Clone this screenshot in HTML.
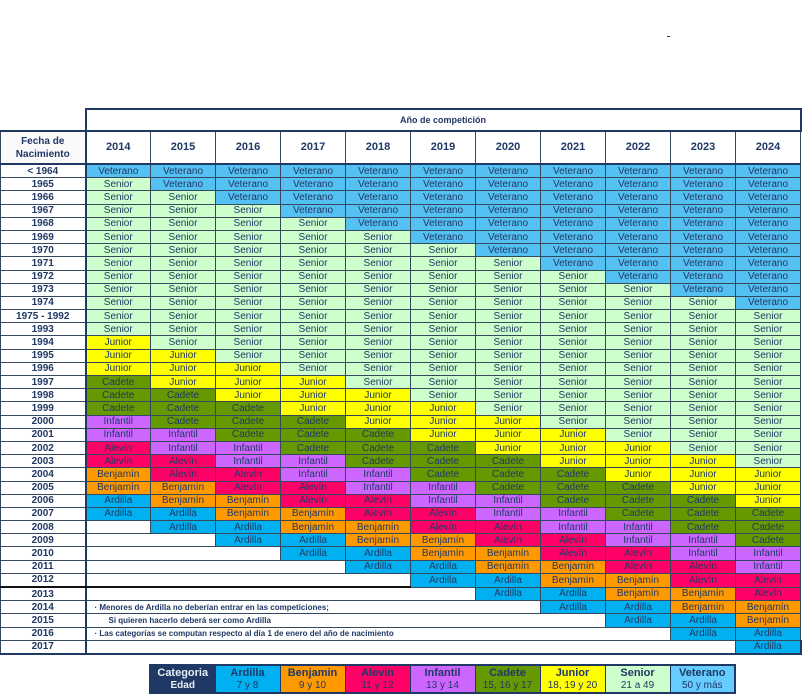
<!DOCTYPE html>
<html><head><meta charset="utf-8">
<style>
body{margin:0;width:810px;height:695px;background:#fff;position:relative;overflow:hidden;font-family:"Liberation Sans",Arial,sans-serif;color:#1f3864}
table{border-collapse:collapse;table-layout:fixed;position:absolute}
#t{left:0;top:108px;width:800px}
#t td{padding:0;text-align:center;font-size:10px;line-height:11px;border:1px solid #34495e;overflow:hidden;white-space:nowrap}
#t tr.d td{height:12.2px}
#t td.l{font-weight:bold;font-size:10px;border-right:2px solid #1f3864;background:#fff}
.v{background:#55c1f2}.s{background:#ccffcc}.j{background:#ffff00}.c{background:#669900}.i{background:#cc66ff}.r{background:#ff0066}.b{background:#ff9900}.a{background:#00b0f0}
td.n{text-align:left!important;font-weight:bold;font-size:8px!important;padding-left:8px!important}
#lg{left:149px;top:664px;width:586px;border:2px solid #1f3864}
#lg td{padding:0;text-align:center;font-size:10px;height:13px;line-height:12px;border-left:1px solid #1f3864}
#lg tr:first-child td{font-weight:bold;font-size:11px}
#lg td.k{background:#1f3864;color:#e8eef5;font-weight:bold}
#lg .v{background:#66ccff}
</style></head><body>
<div style="position:absolute;left:667px;top:36px;width:3px;height:1px;background:#333"></div>
<table id="t">
<colgroup><col style="width:85px"><col span="11" style="width:65px"></colgroup>
<tr><td style="border:none;border-right:2px solid #1f3864;border-bottom:2px solid #1f3864;height:20px"></td><td colspan="11" style="font-weight:bold;font-size:9px;border:2px solid #1f3864;height:20px">Año de competición</td></tr>
<tr><td class="l" style="height:31px;font-size:10px;line-height:13px;background:#fafafa;border-bottom:2px solid #1f3864">Fecha de<br>Nacimiento</td><td style="font-weight:bold;font-size:11px;border-bottom:2px solid #1f3864">2014</td><td style="font-weight:bold;font-size:11px;border-bottom:2px solid #1f3864">2015</td><td style="font-weight:bold;font-size:11px;border-bottom:2px solid #1f3864">2016</td><td style="font-weight:bold;font-size:11px;border-bottom:2px solid #1f3864">2017</td><td style="font-weight:bold;font-size:11px;border-bottom:2px solid #1f3864">2018</td><td style="font-weight:bold;font-size:11px;border-bottom:2px solid #1f3864">2019</td><td style="font-weight:bold;font-size:11px;border-bottom:2px solid #1f3864">2020</td><td style="font-weight:bold;font-size:11px;border-bottom:2px solid #1f3864">2021</td><td style="font-weight:bold;font-size:11px;border-bottom:2px solid #1f3864">2022</td><td style="font-weight:bold;font-size:11px;border-bottom:2px solid #1f3864">2023</td><td style="font-weight:bold;font-size:11px;border-bottom:2px solid #1f3864">2024</td></tr>
<tr class="d"><td class="l">&lt; 1964</td><td class="v">Veterano</td><td class="v">Veterano</td><td class="v">Veterano</td><td class="v">Veterano</td><td class="v">Veterano</td><td class="v">Veterano</td><td class="v">Veterano</td><td class="v">Veterano</td><td class="v">Veterano</td><td class="v">Veterano</td><td class="v">Veterano</td></tr>
<tr class="d"><td class="l">1965</td><td class="s">Senior</td><td class="v">Veterano</td><td class="v">Veterano</td><td class="v">Veterano</td><td class="v">Veterano</td><td class="v">Veterano</td><td class="v">Veterano</td><td class="v">Veterano</td><td class="v">Veterano</td><td class="v">Veterano</td><td class="v">Veterano</td></tr>
<tr class="d"><td class="l">1966</td><td class="s">Senior</td><td class="s">Senior</td><td class="v">Veterano</td><td class="v">Veterano</td><td class="v">Veterano</td><td class="v">Veterano</td><td class="v">Veterano</td><td class="v">Veterano</td><td class="v">Veterano</td><td class="v">Veterano</td><td class="v">Veterano</td></tr>
<tr class="d"><td class="l">1967</td><td class="s">Senior</td><td class="s">Senior</td><td class="s">Senior</td><td class="v">Veterano</td><td class="v">Veterano</td><td class="v">Veterano</td><td class="v">Veterano</td><td class="v">Veterano</td><td class="v">Veterano</td><td class="v">Veterano</td><td class="v">Veterano</td></tr>
<tr class="d"><td class="l">1968</td><td class="s">Senior</td><td class="s">Senior</td><td class="s">Senior</td><td class="s">Senior</td><td class="v">Veterano</td><td class="v">Veterano</td><td class="v">Veterano</td><td class="v">Veterano</td><td class="v">Veterano</td><td class="v">Veterano</td><td class="v">Veterano</td></tr>
<tr class="d"><td class="l">1969</td><td class="s">Senior</td><td class="s">Senior</td><td class="s">Senior</td><td class="s">Senior</td><td class="s">Senior</td><td class="v">Veterano</td><td class="v">Veterano</td><td class="v">Veterano</td><td class="v">Veterano</td><td class="v">Veterano</td><td class="v">Veterano</td></tr>
<tr class="d"><td class="l">1970</td><td class="s">Senior</td><td class="s">Senior</td><td class="s">Senior</td><td class="s">Senior</td><td class="s">Senior</td><td class="s">Senior</td><td class="v">Veterano</td><td class="v">Veterano</td><td class="v">Veterano</td><td class="v">Veterano</td><td class="v">Veterano</td></tr>
<tr class="d"><td class="l">1971</td><td class="s">Senior</td><td class="s">Senior</td><td class="s">Senior</td><td class="s">Senior</td><td class="s">Senior</td><td class="s">Senior</td><td class="s">Senior</td><td class="v">Veterano</td><td class="v">Veterano</td><td class="v">Veterano</td><td class="v">Veterano</td></tr>
<tr class="d"><td class="l">1972</td><td class="s">Senior</td><td class="s">Senior</td><td class="s">Senior</td><td class="s">Senior</td><td class="s">Senior</td><td class="s">Senior</td><td class="s">Senior</td><td class="s">Senior</td><td class="v">Veterano</td><td class="v">Veterano</td><td class="v">Veterano</td></tr>
<tr class="d"><td class="l">1973</td><td class="s">Senior</td><td class="s">Senior</td><td class="s">Senior</td><td class="s">Senior</td><td class="s">Senior</td><td class="s">Senior</td><td class="s">Senior</td><td class="s">Senior</td><td class="s">Senior</td><td class="v">Veterano</td><td class="v">Veterano</td></tr>
<tr class="d"><td class="l">1974</td><td class="s">Senior</td><td class="s">Senior</td><td class="s">Senior</td><td class="s">Senior</td><td class="s">Senior</td><td class="s">Senior</td><td class="s">Senior</td><td class="s">Senior</td><td class="s">Senior</td><td class="s">Senior</td><td class="v">Veterano</td></tr>
<tr class="d"><td class="l">1975 - 1992</td><td class="s">Senior</td><td class="s">Senior</td><td class="s">Senior</td><td class="s">Senior</td><td class="s">Senior</td><td class="s">Senior</td><td class="s">Senior</td><td class="s">Senior</td><td class="s">Senior</td><td class="s">Senior</td><td class="s">Senior</td></tr>
<tr class="d"><td class="l">1993</td><td class="s">Senior</td><td class="s">Senior</td><td class="s">Senior</td><td class="s">Senior</td><td class="s">Senior</td><td class="s">Senior</td><td class="s">Senior</td><td class="s">Senior</td><td class="s">Senior</td><td class="s">Senior</td><td class="s">Senior</td></tr>
<tr class="d"><td class="l">1994</td><td class="j">Junior</td><td class="s">Senior</td><td class="s">Senior</td><td class="s">Senior</td><td class="s">Senior</td><td class="s">Senior</td><td class="s">Senior</td><td class="s">Senior</td><td class="s">Senior</td><td class="s">Senior</td><td class="s">Senior</td></tr>
<tr class="d"><td class="l">1995</td><td class="j">Junior</td><td class="j">Junior</td><td class="s">Senior</td><td class="s">Senior</td><td class="s">Senior</td><td class="s">Senior</td><td class="s">Senior</td><td class="s">Senior</td><td class="s">Senior</td><td class="s">Senior</td><td class="s">Senior</td></tr>
<tr class="d"><td class="l">1996</td><td class="j">Junior</td><td class="j">Junior</td><td class="j">Junior</td><td class="s">Senior</td><td class="s">Senior</td><td class="s">Senior</td><td class="s">Senior</td><td class="s">Senior</td><td class="s">Senior</td><td class="s">Senior</td><td class="s">Senior</td></tr>
<tr class="d"><td class="l">1997</td><td class="c">Cadete</td><td class="j">Junior</td><td class="j">Junior</td><td class="j">Junior</td><td class="s">Senior</td><td class="s">Senior</td><td class="s">Senior</td><td class="s">Senior</td><td class="s">Senior</td><td class="s">Senior</td><td class="s">Senior</td></tr>
<tr class="d"><td class="l">1998</td><td class="c">Cadete</td><td class="c">Cadete</td><td class="j">Junior</td><td class="j">Junior</td><td class="j">Junior</td><td class="s">Senior</td><td class="s">Senior</td><td class="s">Senior</td><td class="s">Senior</td><td class="s">Senior</td><td class="s">Senior</td></tr>
<tr class="d"><td class="l">1999</td><td class="c">Cadete</td><td class="c">Cadete</td><td class="c">Cadete</td><td class="j">Junior</td><td class="j">Junior</td><td class="j">Junior</td><td class="s">Senior</td><td class="s">Senior</td><td class="s">Senior</td><td class="s">Senior</td><td class="s">Senior</td></tr>
<tr class="d"><td class="l">2000</td><td class="i">Infantil</td><td class="c">Cadete</td><td class="c">Cadete</td><td class="c">Cadete</td><td class="j">Junior</td><td class="j">Junior</td><td class="j">Junior</td><td class="s">Senior</td><td class="s">Senior</td><td class="s">Senior</td><td class="s">Senior</td></tr>
<tr class="d"><td class="l">2001</td><td class="i">Infantil</td><td class="i">Infantil</td><td class="c">Cadete</td><td class="c">Cadete</td><td class="c">Cadete</td><td class="j">Junior</td><td class="j">Junior</td><td class="j">Junior</td><td class="s">Senior</td><td class="s">Senior</td><td class="s">Senior</td></tr>
<tr class="d"><td class="l">2002</td><td class="r">Alevín</td><td class="i">Infantil</td><td class="i">Infantil</td><td class="c">Cadete</td><td class="c">Cadete</td><td class="c">Cadete</td><td class="j">Junior</td><td class="j">Junior</td><td class="j">Junior</td><td class="s">Senior</td><td class="s">Senior</td></tr>
<tr class="d"><td class="l">2003</td><td class="r">Alevín</td><td class="r">Alevín</td><td class="i">Infantil</td><td class="i">Infantil</td><td class="c">Cadete</td><td class="c">Cadete</td><td class="c">Cadete</td><td class="j">Junior</td><td class="j">Junior</td><td class="j">Junior</td><td class="s">Senior</td></tr>
<tr class="d"><td class="l">2004</td><td class="b">Benjamín</td><td class="r">Alevín</td><td class="r">Alevín</td><td class="i">Infantil</td><td class="i">Infantil</td><td class="c">Cadete</td><td class="c">Cadete</td><td class="c">Cadete</td><td class="j">Junior</td><td class="j">Junior</td><td class="j">Junior</td></tr>
<tr class="d"><td class="l">2005</td><td class="b">Benjamín</td><td class="b">Benjamín</td><td class="r">Alevín</td><td class="r">Alevín</td><td class="i">Infantil</td><td class="i">Infantil</td><td class="c">Cadete</td><td class="c">Cadete</td><td class="c">Cadete</td><td class="j">Junior</td><td class="j">Junior</td></tr>
<tr class="d"><td class="l">2006</td><td class="a">Ardilla</td><td class="b">Benjamín</td><td class="b">Benjamín</td><td class="r">Alevín</td><td class="r">Alevín</td><td class="i">Infantil</td><td class="i">Infantil</td><td class="c">Cadete</td><td class="c">Cadete</td><td class="c">Cadete</td><td class="j">Junior</td></tr>
<tr class="d"><td class="l">2007</td><td class="a">Ardilla</td><td class="a">Ardilla</td><td class="b">Benjamín</td><td class="b">Benjamín</td><td class="r">Alevín</td><td class="r">Alevín</td><td class="i">Infantil</td><td class="i">Infantil</td><td class="c">Cadete</td><td class="c">Cadete</td><td class="c">Cadete</td></tr>
<tr class="d"><td class="l">2008</td><td></td><td class="a">Ardilla</td><td class="a">Ardilla</td><td class="b">Benjamín</td><td class="b">Benjamín</td><td class="r">Alevín</td><td class="r">Alevín</td><td class="i">Infantil</td><td class="i">Infantil</td><td class="c">Cadete</td><td class="c">Cadete</td></tr>
<tr class="d"><td class="l">2009</td><td colspan="2"></td><td class="a">Ardilla</td><td class="a">Ardilla</td><td class="b">Benjamín</td><td class="b">Benjamín</td><td class="r">Alevín</td><td class="r">Alevín</td><td class="i">Infantil</td><td class="i">Infantil</td><td class="c">Cadete</td></tr>
<tr class="d"><td class="l">2010</td><td colspan="3"></td><td class="a">Ardilla</td><td class="a">Ardilla</td><td class="b">Benjamín</td><td class="b">Benjamín</td><td class="r">Alevín</td><td class="r">Alevín</td><td class="i">Infantil</td><td class="i">Infantil</td></tr>
<tr class="d"><td class="l">2011</td><td colspan="4"></td><td class="a">Ardilla</td><td class="a">Ardilla</td><td class="b">Benjamín</td><td class="b">Benjamín</td><td class="r">Alevín</td><td class="r">Alevín</td><td class="i">Infantil</td></tr>
<tr class="d"><td class="l" style="border-bottom:2px solid #111">2012</td><td colspan="5" style="border-bottom:2px solid #111"></td><td class="a">Ardilla</td><td class="a">Ardilla</td><td class="b">Benjamín</td><td class="b">Benjamín</td><td class="r">Alevín</td><td class="r">Alevín</td></tr>
<tr class="d"><td class="l">2013</td><td colspan="6"></td><td class="a">Ardilla</td><td class="a">Ardilla</td><td class="b">Benjamín</td><td class="b">Benjamín</td><td class="r">Alevín</td></tr>
<tr class="d"><td class="l">2014</td><td colspan="7" class="n">· Menores de Ardilla no deberían entrar en las competiciones;</td><td class="a">Ardilla</td><td class="a">Ardilla</td><td class="b">Benjamín</td><td class="b">Benjamín</td></tr>
<tr class="d"><td class="l">2015</td><td colspan="8" class="n" style="padding-left:22px!important">Si quieren hacerlo deberá ser como Ardilla</td><td class="a">Ardilla</td><td class="a">Ardilla</td><td class="b">Benjamín</td></tr>
<tr class="d"><td class="l">2016</td><td colspan="9" class="n">· Las categorías se computan respecto al día 1 de enero del año de nacimiento</td><td class="a">Ardilla</td><td class="a">Ardilla</td></tr>
<tr class="d"><td class="l" style="border-bottom:2px solid #1f3864">2017</td><td colspan="10" style="border-bottom:2px solid #1f3864"></td><td class="a" style="border-bottom:2px solid #1f3864;border-right:2px solid #1f3864">Ardilla</td></tr>
</table>
<table id="lg">
<colgroup><col span="9" style="width:65px"></colgroup>
<tr><td class="k">Categoria</td><td class="a">Ardilla</td><td class="b">Benjamin</td><td class="r">Alevin</td><td class="i">Infantil</td><td class="c">Cadete</td><td class="j">Junior</td><td class="s">Senior</td><td class="v">Veterano</td></tr>
<tr><td class="k">Edad</td><td class="a">7 y 8</td><td class="b">9 y 10</td><td class="r">11 y 12</td><td class="i">13 y 14</td><td class="c">15, 16 y 17</td><td class="j">18, 19 y 20</td><td class="s">21 a 49</td><td class="v">50 y más</td></tr>
</table>
</body></html>
